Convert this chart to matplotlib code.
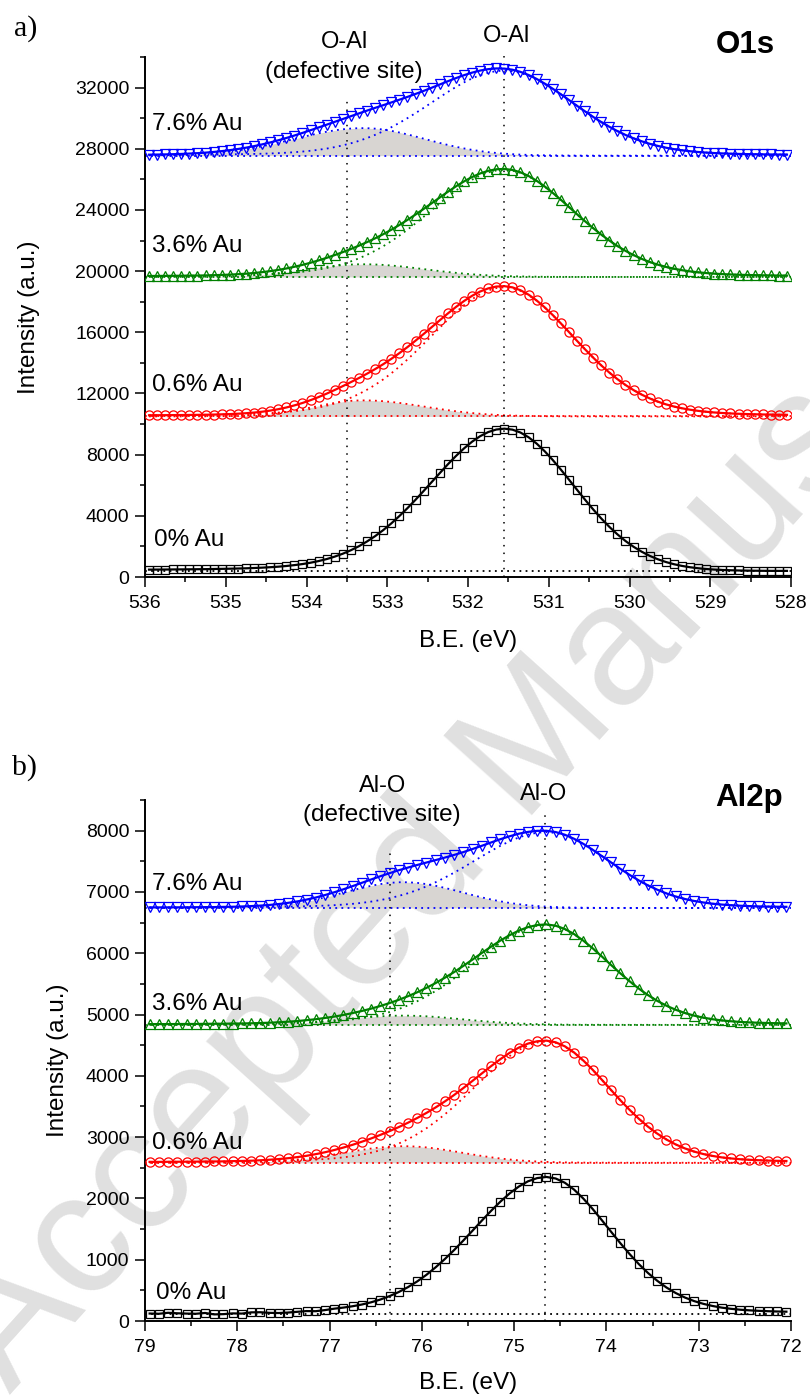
import matplotlib
matplotlib.use("Agg")
import matplotlib.pyplot as plt
import numpy as np
from matplotlib.ticker import MultipleLocator

plt.rcParams['font.family'] = ['Liberation Sans', 'DejaVu Sans']

#==[0] Data
#
samples = ["0% Au", "0.6% Au", "3.6% Au", "7.6% Au"]

# binding energy grids (eV), one point every 0.1 eV
o1s_be = 535.95 - 0.1 * np.arange(80)
al2p_be = 78.95 - 0.1 * np.arange(70)

# O1s spectra (measured counts)
o1s_0 = [482, 486, 489, 494, 498, 503, 508, 513, 524, 533,
         542, 555, 569, 589, 611, 640, 675, 720, 777, 846,
         934, 1042, 1173, 1334, 1524, 1751, 2015, 2325, 2673, 3065,
         3504, 3985, 4501, 5050, 5621, 6206, 6789, 7364, 7908, 8406,
         8845, 9206, 9476, 9643, 9700, 9636, 9446, 9137, 8724, 8220,
         7647, 7022, 6368, 5704, 5050, 4420, 3828, 3282, 2790, 2355,
         1977, 1656, 1384, 1162, 981, 837, 725, 638, 572, 522,
         486, 460, 441, 427, 419, 410, 405, 402, 400, 400]
o1s_06 = [10574, 10578, 10581, 10585, 10589, 10595, 10601, 10608, 10620, 10635,
          10651, 10676, 10708, 10751, 10807, 10880, 10971, 11083, 11220, 11378,
          11562, 11766, 11990, 12230, 12481, 12743, 13012, 13295, 13593, 13914,
          14263, 14637, 15032, 15451, 15887, 16335, 16783, 17229, 17652, 18042,
          18385, 18666, 18871, 18991, 19016, 18938, 18750, 18460, 18082, 17631,
          17124, 16582, 16018, 15442, 14885, 14345, 13837, 13368, 12938, 12556,
          12221, 11927, 11677, 11467, 11291, 11147, 11031, 10938, 10863, 10804,
          10758, 10722, 10694, 10671, 10654, 10639, 10627, 10618, 10610, 10603]
o1s_36 = [19682, 19684, 19688, 19693, 19697, 19704, 19710, 19719, 19733, 19750,
          19771, 19799, 19832, 19877, 19932, 19999, 20078, 20173, 20284, 20407,
          20547, 20701, 20868, 21050, 21242, 21447, 21664, 21897, 22145, 22413,
          22704, 23017, 23348, 23698, 24063, 24437, 24812, 25185, 25539, 25864,
          26151, 26385, 26557, 26658, 26680, 26616, 26460, 26221, 25908, 25533,
          25114, 24664, 24196, 23719, 23257, 22809, 22388, 21999, 21642, 21325,
          21047, 20804, 20596, 20422, 20276, 20157, 20060, 19983, 19921, 19872,
          19834, 19804, 19781, 19762, 19747, 19736, 19726, 19718, 19711, 19705]
o1s_76 = [27613, 27621, 27631, 27645, 27662, 27685, 27712, 27747, 27792, 27845,
          27908, 27984, 28070, 28172, 28285, 28413, 28553, 28704, 28866, 29036,
          29212, 29394, 29576, 29762, 29946, 30130, 30313, 30497, 30675, 30849,
          31027, 31207, 31391, 31584, 31783, 31991, 32202, 32414, 32619, 32810,
          32977, 33113, 33206, 33252, 33241, 33168, 33027, 32824, 32566, 32262,
          31924, 31564, 31189, 30810, 30442, 30083, 29748, 29439, 29156, 28904,
          28684, 28490, 28325, 28187, 28071, 27976, 27900, 27839, 27789, 27750,
          27720, 27696, 27678, 27663, 27651, 27642, 27634, 27628, 27622, 27618]

# O1s defective-site component (height above baseline)
o1s_06_def = [0, 0, 0, 0, 0, 1, 3, 5, 8, 14,
              22, 35, 54, 80, 115, 162, 221, 293, 378, 473,
              578, 684, 789, 883, 961, 1017, 1046, 1048, 1030, 995,
              946, 883, 810, 731, 649, 566, 485, 409, 338, 276,
              221, 174, 134, 102, 76, 56, 41, 29, 20, 14,
              9, 6, 4, 0, 0, 0, 0, 0, 0, 0] + [0] * 20
o1s_36_def = [0, 0, 1, 2, 3, 6, 9, 14, 20, 30,
              44, 62, 85, 115, 153, 198, 251, 312, 380, 451,
              525, 598, 666, 727, 776, 810, 828, 828, 814, 787,
              747, 698, 641, 578, 513, 447, 383, 323, 268, 218,
              174, 137, 106, 81, 60, 44, 32, 23, 16, 11,
              7, 5, 3, 0, 0, 0, 0, 0, 0, 0] + [0] * 20
o1s_76_def = [14, 20, 28, 39, 54, 73, 98, 129, 168, 215,
              273, 341, 419, 509, 609, 720, 838, 963, 1091, 1219,
              1343, 1460, 1564, 1654, 1724, 1772, 1797, 1796, 1766, 1706,
              1621, 1514, 1389, 1254, 1112, 970, 832, 701, 580, 473,
              378, 298, 230, 176, 131, 96, 69, 49, 34, 24,
              16, 11, 7, 4, 3, 0, 0, 0, 0, 0] + [0] * 20
o1s_base = [400, 10500, 19620, 27550]

# Al2p spectra (measured counts)
al2p_0 = [122, 118, 134, 126, 121, 118, 131, 108, 112, 124,
          121, 141, 143, 133, 130, 138, 150, 162, 160, 178,
          201, 219, 241, 269, 305, 350, 406, 473, 553, 646,
          754, 877, 1012, 1158, 1314, 1475, 1638, 1797, 1946, 2080,
          2193, 2279, 2332, 2350, 2325, 2255, 2143, 1997, 1829, 1645,
          1457, 1271, 1094, 930, 784, 657, 547, 457, 383, 325,
          280, 245, 218, 199, 184, 174, 166, 160, 155, 152]
al2p_06 = [2596, 2596, 2597, 2598, 2599, 2600, 2601, 2603, 2604, 2608,
           2611, 2615, 2622, 2631, 2642, 2656, 2674, 2695, 2722, 2753,
           2789, 2830, 2875, 2925, 2978, 3036, 3098, 3164, 3235, 3312,
           3395, 3485, 3583, 3688, 3801, 3919, 4039, 4158, 4271, 4374,
           4460, 4526, 4564, 4574, 4547, 4481, 4380, 4249, 4100, 3936,
           3769, 3603, 3446, 3301, 3171, 3058, 2961, 2881, 2816, 2764,
           2724, 2693, 2669, 2652, 2639, 2630, 2623, 2617, 2613, 2610]
al2p_36 = [4843, 4844, 4844, 4845, 4846, 4846, 4848, 4849, 4850, 4852,
           4854, 4857, 4861, 4867, 4874, 4883, 4893, 4908, 4923, 4944,
           4966, 4993, 5024, 5058, 5096, 5139, 5187, 5240, 5299, 5363,
           5435, 5514, 5601, 5693, 5794, 5898, 6004, 6107, 6206, 6294,
           6369, 6426, 6460, 6470, 6449, 6395, 6312, 6205, 6082, 5948,
           5809, 5673, 5544, 5424, 5317, 5224, 5144, 5078, 5025, 4982,
           4949, 4923, 4904, 4890, 4879, 4871, 4866, 4861, 4858, 4855]
al2p_76 = [6748, 6748, 6748, 6749, 6749, 6751, 6752, 6753, 6756, 6758,
           6763, 6769, 6777, 6788, 6803, 6822, 6845, 6875, 6909, 6949,
           6994, 7043, 7095, 7149, 7203, 7256, 7306, 7354, 7398, 7440,
           7480, 7520, 7561, 7604, 7650, 7701, 7753, 7807, 7860, 7908,
           7950, 7980, 7997, 7998, 7977, 7933, 7867, 7784, 7689, 7586,
           7482, 7378, 7279, 7188, 7107, 7037, 6976, 6926, 6885, 6853,
           6828, 6808, 6794, 6783, 6775, 6769, 6764, 6761, 6759, 6757]

# Al2p defective-site component (height above baseline)
al2p_06_def = [0, 0, 0, 0, 0, 1, 1, 2, 2, 4,
               6, 9, 14, 20, 29, 39, 53, 69, 89, 111,
               135, 160, 186, 210, 232, 250, 263, 269, 269, 263,
               250, 232, 210, 186, 160, 135, 111, 89, 69, 53,
               39, 29, 20, 14, 9, 6, 4, 2, 2, 1,
               1] + [0] * 19
al2p_36_def = [0, 0, 0, 0, 0, 0, 1, 1, 1, 2,
               3, 5, 8, 11, 16, 22, 29, 39, 49, 62,
               75, 89, 103, 117, 129, 139, 146, 150, 150, 146,
               139, 129, 117, 103, 89, 75, 62, 49, 39, 29,
               22, 16, 11, 8, 5, 3, 2, 1, 1, 1] + [0] * 20
al2p_76_def = [0, 0, 0, 0, 0, 1, 1, 2, 4, 6,
               10, 15, 22, 31, 44, 61, 82, 108, 138, 172,
               210, 249, 289, 327, 361, 389, 409, 419, 419, 409,
               389, 361, 327, 289, 249, 210, 172, 138, 108, 82,
               61, 44, 31, 22, 15, 10, 6, 4, 2, 1,
               1] + [0] * 19
al2p_base = [120, 2582, 4832, 6739]

# peak positions marked by the vertical dotted lines (eV)
o1s_peaks = [533.5, 531.55]
al2p_peaks = [76.34, 74.67]

#==[1] Styles
#
W, H = 810, 1400
colors = ["black", "red", "#008000", "blue"]
markers = ["s", "o", "^", "v"]
msizes = [6.0, 6.6, 7.4, 7.4]
grey = "#d8d5d2"
dots = (0, (1, 2.4))


def fpos(x, y):
    return x / W, 1 - y / H


def draw_panel(ax, be, spectra, defects, bases, xlim, ylim):
    for i in range(4):
        y = np.array(spectra[i], dtype=float)
        col = colors[i]
        ax.hlines(bases[i], xlim[0], xlim[1], colors=col, linestyles=dots,
                  lw=1.3, zorder=2)
        if defects[i] is not None:
            d = np.array(defects[i], dtype=float)
            ax.fill_between(be, bases[i], bases[i] + d, color=grey, lw=0,
                            zorder=1)
            ax.plot(be, bases[i] + d, ls=dots, color=col, lw=1.3, zorder=2)
            ax.plot(be, y - d, ls=dots, color=col, lw=1.3, zorder=2)
        ax.plot(be, y, ls='none', marker=markers[i], ms=msizes[i],
                mfc='none', mec=col, mew=0.9, zorder=3)
        ax.plot(be, y, '-', color=col, lw=1.6, zorder=4)
    ax.set_xlim(*xlim)
    ax.set_ylim(*ylim)
    ax.patch.set_alpha(0)
    for s in ["top", "right"]:
        ax.spines[s].set_visible(False)
    for s in ["left", "bottom"]:
        ax.spines[s].set_linewidth(1.4)
    ax.tick_params(which='major', direction='out', length=7.2, width=1.1,
                   labelsize=14)
    ax.tick_params(which='minor', direction='out', length=3.6, width=1.1)
    ax.tick_params(axis='x', which='major', pad=6)
    ax.tick_params(axis='y', which='major', pad=4)
    ax.set_xlabel("B.E. (eV)", fontsize=17.5)
    ax.set_ylabel("Intensity (a.u.)", fontsize=17.5)


fig = plt.figure(figsize=(8.1, 14), dpi=100)

# watermark behind everything
fig.text(*fpos(10, 1395), "Accepted Manuscript", fontsize=124,
         color='#e0e0e0', rotation=48, rotation_mode='anchor', ha='left',
         va='baseline', zorder=-1)

#==[2] O1s panel
#
ax1 = fig.add_axes([145 / W, 1 - 577 / H, 646 / W, 520 / H])
draw_panel(ax1, o1s_be, [o1s_0, o1s_06, o1s_36, o1s_76],
           [None, o1s_06_def, o1s_36_def, o1s_76_def], o1s_base,
           (536, 528), (0, 34000))
ax1.xaxis.set_major_locator(MultipleLocator(1))
ax1.xaxis.set_minor_locator(MultipleLocator(0.5))
ax1.yaxis.set_major_locator(MultipleLocator(4000))
ax1.yaxis.set_minor_locator(MultipleLocator(2000))
ax1.vlines(o1s_peaks[0], 0, 31300, colors='black', linestyles=(0, (1, 4)),
           lw=1.1, zorder=2)
ax1.vlines(o1s_peaks[1], 0, 34400, colors='black', linestyles=(0, (1, 4)),
           lw=1.1, zorder=2, clip_on=False)
ax1.xaxis.set_label_coords(0.5, -0.102)
ax1.yaxis.set_label_coords(-0.163, 0.5)

#==[3] Al2p panel
#
ax2 = fig.add_axes([145 / W, 1 - 1321 / H, 646 / W, 521 / H])
draw_panel(ax2, al2p_be, [al2p_0, al2p_06, al2p_36, al2p_76],
           [None, al2p_06_def, al2p_36_def, al2p_76_def], al2p_base,
           (79, 72), (0, 8500))
ax2.xaxis.set_major_locator(MultipleLocator(1))
ax2.xaxis.set_minor_locator(MultipleLocator(0.5))
ax2.yaxis.set_major_locator(MultipleLocator(1000))
ax2.yaxis.set_minor_locator(MultipleLocator(500))
ax2.vlines(al2p_peaks[0], 0, 7690, colors='black', linestyles=(0, (1, 4)),
           lw=1.1, zorder=2)
ax2.vlines(al2p_peaks[1], 0, 8260, colors='black', linestyles=(0, (1, 4)),
           lw=1.1, zorder=2)
ax2.xaxis.set_label_coords(0.5, -0.098)
ax2.yaxis.set_label_coords(-0.118, 0.5)

#==[4] Annotations
#
# baselines of the sample labels, listed in the order of `samples`
lab_a = [(154, 546), (152, 391), (152, 252), (152, 130)]
lab_b = [(156, 1299), (152, 1149), (152, 1010), (152, 890)]
for i, s in enumerate(samples):
    fig.text(*fpos(*lab_a[i]), s, fontsize=17.5, ha='left', va='baseline')
    fig.text(*fpos(*lab_b[i]), s, fontsize=17.5, ha='left', va='baseline')

fig.text(*fpos(344, 48), "O-Al", fontsize=17, ha='center', va='baseline')
fig.text(*fpos(344, 78), "(defective site)", fontsize=17.5, ha='center',
         va='baseline')
fig.text(*fpos(506, 42), "O-Al", fontsize=17, ha='center', va='baseline')
fig.text(*fpos(745, 53), "O1s", fontsize=22.5, fontweight='bold',
         ha='center', va='baseline')
fig.text(*fpos(383, 792), "Al-O", fontsize=17, ha='center', va='baseline')
fig.text(*fpos(382, 821), "(defective site)", fontsize=17.5, ha='center',
         va='baseline')
fig.text(*fpos(544, 800), "Al-O", fontsize=17, ha='center', va='baseline')
fig.text(*fpos(749, 806), "Al2p", fontsize=22.5, fontweight='bold',
         ha='center', va='baseline')
fig.text(*fpos(14, 36), "a)", fontsize=21.5, family='Liberation Serif',
         ha='left', va='baseline')
fig.text(*fpos(12, 775), "b)", fontsize=21.5, family='Liberation Serif',
         ha='left', va='baseline')

fig.savefig("out.png", dpi=100)
